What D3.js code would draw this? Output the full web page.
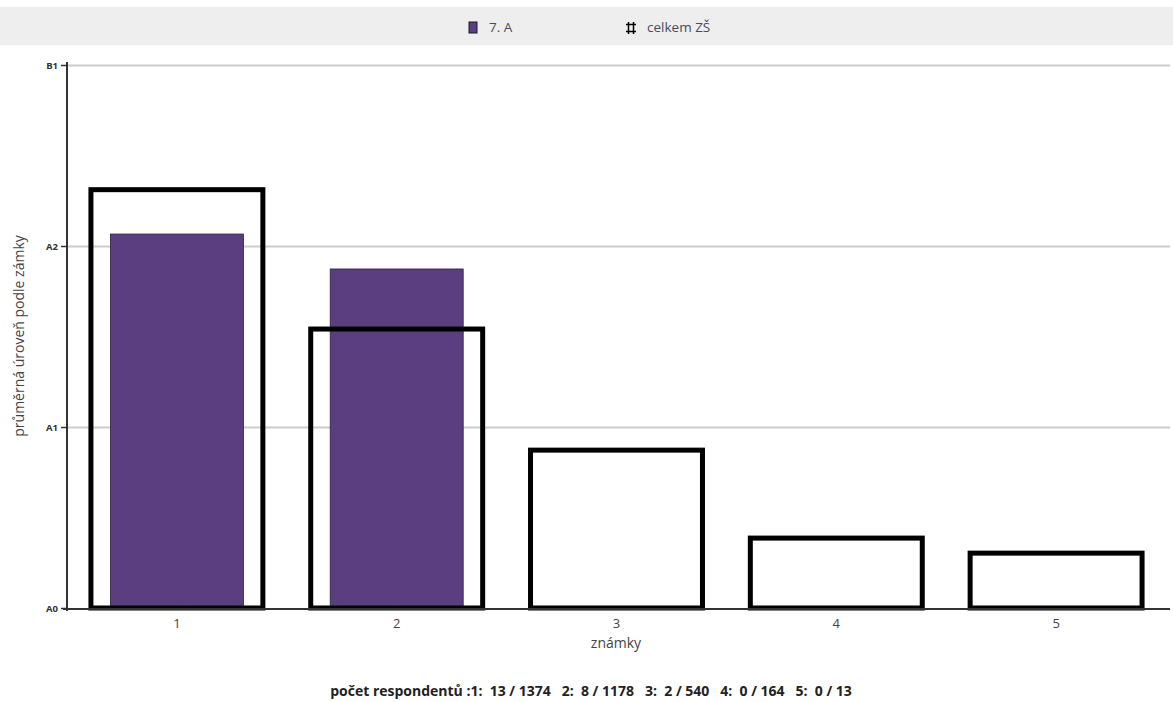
<!DOCTYPE html>
<html>
<head>
<meta charset="utf-8">
<script src="https://cdn.jsdelivr.net/npm/d3@7"></script>
<style>
  body { margin: 0; background: #fff; }
  svg { display: block; font-family: "Open Sans", sans-serif; }
</style>
</head>
<body>
<svg id="chart" width="1173" height="702"></svg>
<script>
const categories = ["1", "2", "3", "4", "5"];
const classValues = [2.066, 1.873, null, null, null];       // 7. A
const schoolValues = [2.325, 1.555, 0.886, 0.4, 0.317];     // celkem ZŠ
const yTickValues = [0, 1, 2, 3];
const yTickLabels = ["A0", "A1", "A2", "B1"];
const respondents = ["13 / 1374", "8 / 1178", "2 / 540", "0 / 164", "0 / 13"];
const seriesNames = ["7. A", "celkem ZŠ"];

(function () {
const svg = d3.select("#chart");
const W = 1173, H = 702;
const pLeft = 67, pRight = 1166, pTop = 65, pBottom = 608;

const x = d3.scaleBand().domain(categories).range([pLeft, pRight]).paddingInner(0).paddingOuter(0);
const y = d3.scaleLinear().domain([0, 3]).range([pBottom, pTop]);

// legend band
svg.append("rect").attr("x", 0).attr("y", 7).attr("width", W).attr("height", 38).attr("fill", "#eeeeee");
const lg = svg.append("g");
lg.append("rect").attr("x", 469).attr("y", 22).attr("width", 8).attr("height", 11)
  .attr("fill", "#5a3e80").attr("stroke", "#1a1a2a").attr("stroke-width", 1);
lg.append("text").attr("x", 489).attr("y", 32).attr("font-size", 13.5).attr("fill", "#4a4a5a").text(seriesNames[0]);
const icon = lg.append("g").attr("stroke", "#000").attr("stroke-width", 1.5);
icon.append("line").attr("x1", 628.5).attr("x2", 628.5).attr("y1", 22).attr("y2", 34);
icon.append("line").attr("x1", 633.5).attr("x2", 633.5).attr("y1", 22).attr("y2", 34);
icon.append("line").attr("x1", 626).attr("x2", 636).attr("y1", 24.5).attr("y2", 24.5);
icon.append("line").attr("x1", 626).attr("x2", 636).attr("y1", 31.5).attr("y2", 31.5);
lg.append("text").attr("x", 647).attr("y", 32).attr("font-size", 13.5).attr("fill", "#4a4a5a").text(seriesNames[1]);

// gridlines
svg.append("g").selectAll("line").data(yTickValues.slice(1)).join("line")
  .attr("x1", pLeft).attr("x2", 1170)
  .attr("y1", d => Math.round(y(d)) + 0.5).attr("y2", d => Math.round(y(d)) + 0.5)
  .attr("stroke", "#cccccc").attr("stroke-width", 2);

// y axis
const yAxis = d3.axisLeft(y).tickValues(yTickValues).tickFormat((d, i) => yTickLabels[i]).tickSize(6).tickPadding(3);
const gy = svg.append("g").attr("transform", `translate(${pLeft},0)`).call(yAxis);
gy.select(".domain").attr("stroke", "#333").attr("stroke-width", 2).attr("d", `M0,${pTop - 3}V${pBottom + 3}`);
gy.selectAll(".tick line").attr("stroke", "#333").attr("stroke-width", 1.5).attr("x2", -6);
gy.selectAll(".tick text").attr("font-size", 9.5).attr("font-weight", "bold").attr("fill", "#333")
  .attr("font-family", "'Open Sans', sans-serif");

// class bars (filled)
const innerW = x.bandwidth() * 0.605;
svg.append("g").selectAll("rect").data(categories.map((c, i) => ({ c, v: classValues[i] })).filter(d => d.v != null))
  .join("rect")
  .attr("x", d => x(d.c) + (x.bandwidth() - innerW) / 2)
  .attr("y", d => y(d.v))
  .attr("width", innerW)
  .attr("height", d => y(0) - y(d.v))
  .attr("fill", "#5a3e80").attr("stroke", "#2a1f3a").attr("stroke-width", 0.8);

// school bars (outline)
const outerW = x.bandwidth() * 0.805;
const sw = 5;
svg.append("g").selectAll("rect").data(categories.map((c, i) => ({ c, v: schoolValues[i] })))
  .join("rect")
  .attr("x", d => x(d.c) + (x.bandwidth() - outerW) / 2 + sw / 2)
  .attr("y", d => y(d.v) + sw / 2)
  .attr("width", outerW - sw)
  .attr("height", d => y(0) - y(d.v) - sw / 2)
  .attr("fill", "none").attr("stroke", "#000").attr("stroke-width", sw);

// x axis
const xAxis = d3.axisBottom(x).tickSize(0).tickPadding(10);
const gx = svg.append("g").attr("transform", `translate(0,${pBottom + 1})`).call(xAxis);
gx.select(".domain").attr("stroke", "#333").attr("stroke-width", 2).attr("d", `M${pLeft - 4},0H1170`);
gx.selectAll(".tick text").attr("font-size", 13).attr("fill", "#444").attr("font-family", "'Open Sans', sans-serif");

// axis titles
svg.append("text").attr("x", 616).attr("y", 648).attr("text-anchor", "middle")
  .attr("font-size", 14).attr("fill", "#444").text("známky");
svg.append("text").attr("transform", "translate(24,336) rotate(-90)").attr("text-anchor", "middle")
  .attr("font-size", 14).attr("fill", "#444").text("průměrná úroveň podle zámky");

// footer
const nb = "\u00A0";
const footer = "počet respondentů :1:" + nb + nb + categories.map((c, i) => (i ? c + ":" + nb + nb : "") + respondents[i]).join(nb + nb + nb);
svg.append("text").attr("x", 591).attr("y", 696).attr("text-anchor", "middle")
  .attr("font-size", 14).attr("font-weight", "bold").attr("fill", "#222").text(footer);
})();
</script>
</body>
</html>
